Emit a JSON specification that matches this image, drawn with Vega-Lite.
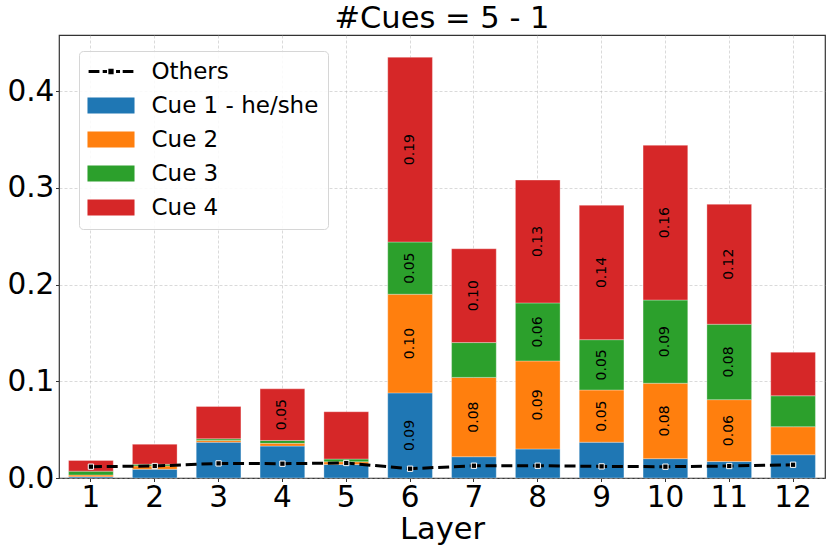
{
  "$schema": "https://vega.github.io/schema/vega-lite/v6.json",
  "width": 766,
  "height": 443,
  "autosize": {"type": "pad"},
  "padding": {"left": 6, "top": 3, "right": 6, "bottom": 0},
  "title": {"text": "#Cues = 5 - 1", "fontSize": 30.5, "fontWeight": "normal", "baseline": "bottom", "offset": 0, "dy": 29, "frame": "group", "anchor": "middle", "color": "black"},
  "config": {
    "font": "DejaVu Sans",
    "view": {"stroke": "#333", "strokeWidth": 1.2},
    "axis": {"zindex": 1}
  },
  "datasets": {
    "bars": [
      {"layer": 1, "cue": "Cue 1 - he/she", "value": 0.0013},
      {"layer": 1, "cue": "Cue 2", "value": 0.0018},
      {"layer": 1, "cue": "Cue 3", "value": 0.004},
      {"layer": 1, "cue": "Cue 4", "value": 0.011},
      {"layer": 2, "cue": "Cue 1 - he/she", "value": 0.009},
      {"layer": 2, "cue": "Cue 2", "value": 0.0035},
      {"layer": 2, "cue": "Cue 3", "value": 0.0017},
      {"layer": 2, "cue": "Cue 4", "value": 0.0207},
      {"layer": 3, "cue": "Cue 1 - he/she", "value": 0.037},
      {"layer": 3, "cue": "Cue 2", "value": 0.0018},
      {"layer": 3, "cue": "Cue 3", "value": 0.0017},
      {"layer": 3, "cue": "Cue 4", "value": 0.0334},
      {"layer": 4, "cue": "Cue 1 - he/she", "value": 0.033},
      {"layer": 4, "cue": "Cue 2", "value": 0.0028},
      {"layer": 4, "cue": "Cue 3", "value": 0.003},
      {"layer": 4, "cue": "Cue 4", "value": 0.0534},
      {"layer": 5, "cue": "Cue 1 - he/she", "value": 0.014},
      {"layer": 5, "cue": "Cue 2", "value": 0.0028},
      {"layer": 5, "cue": "Cue 3", "value": 0.0028},
      {"layer": 5, "cue": "Cue 4", "value": 0.0489},
      {"layer": 6, "cue": "Cue 1 - he/she", "value": 0.088},
      {"layer": 6, "cue": "Cue 2", "value": 0.102},
      {"layer": 6, "cue": "Cue 3", "value": 0.054},
      {"layer": 6, "cue": "Cue 4", "value": 0.191},
      {"layer": 7, "cue": "Cue 1 - he/she", "value": 0.022},
      {"layer": 7, "cue": "Cue 2", "value": 0.082},
      {"layer": 7, "cue": "Cue 3", "value": 0.036},
      {"layer": 7, "cue": "Cue 4", "value": 0.097},
      {"layer": 8, "cue": "Cue 1 - he/she", "value": 0.030},
      {"layer": 8, "cue": "Cue 2", "value": 0.091},
      {"layer": 8, "cue": "Cue 3", "value": 0.060},
      {"layer": 8, "cue": "Cue 4", "value": 0.127},
      {"layer": 9, "cue": "Cue 1 - he/she", "value": 0.037},
      {"layer": 9, "cue": "Cue 2", "value": 0.054},
      {"layer": 9, "cue": "Cue 3", "value": 0.052},
      {"layer": 9, "cue": "Cue 4", "value": 0.139},
      {"layer": 10, "cue": "Cue 1 - he/she", "value": 0.020},
      {"layer": 10, "cue": "Cue 2", "value": 0.078},
      {"layer": 10, "cue": "Cue 3", "value": 0.086},
      {"layer": 10, "cue": "Cue 4", "value": 0.160},
      {"layer": 11, "cue": "Cue 1 - he/she", "value": 0.017},
      {"layer": 11, "cue": "Cue 2", "value": 0.064},
      {"layer": 11, "cue": "Cue 3", "value": 0.078},
      {"layer": 11, "cue": "Cue 4", "value": 0.124},
      {"layer": 12, "cue": "Cue 1 - he/she", "value": 0.024},
      {"layer": 12, "cue": "Cue 2", "value": 0.029},
      {"layer": 12, "cue": "Cue 3", "value": 0.032},
      {"layer": 12, "cue": "Cue 4", "value": 0.045}
    ],
    "others": [
      {"layer": 1, "cue": "Others", "value": 0.0117},
      {"layer": 2, "cue": "Others", "value": 0.0124},
      {"layer": 3, "cue": "Others", "value": 0.0151},
      {"layer": 4, "cue": "Others", "value": 0.0148},
      {"layer": 5, "cue": "Others", "value": 0.0155},
      {"layer": 6, "cue": "Others", "value": 0.0096},
      {"layer": 7, "cue": "Others", "value": 0.0127},
      {"layer": 8, "cue": "Others", "value": 0.0127},
      {"layer": 9, "cue": "Others", "value": 0.012},
      {"layer": 10, "cue": "Others", "value": 0.0117},
      {"layer": 11, "cue": "Others", "value": 0.0124},
      {"layer": 12, "cue": "Others", "value": 0.0137}
    ]
  },
  "layer": [
    {
      "data": {"name": "bars"},
      "transform": [
        {"stack": "value", "groupby": ["layer"], "sort": [{"field": "cue", "order": "ascending"}], "as": ["y0", "y1"]}
      ],
      "mark": {"type": "bar", "stroke": "white", "strokeOpacity": 0.3, "strokeWidth": 1},
      "encoding": {
        "x": {
          "field": "layer", "type": "ordinal",
          "scale": {"domain": [1,2,3,4,5,6,7,8,9,10,11,12], "paddingInner": 0.3, "paddingOuter": 0.15},
          "axis": {
            "title": "Layer", "titleFontSize": 30.5, "titleFontWeight": "normal", "titleColor": "black", "titlePadding": 2,
            "labelAngle": 0, "labelFontSize": 29.5, "labelColor": "black", "labelPadding": 2,
            "tickSize": 3.5, "tickColor": "#333", "domain": false, "bandPosition": 0.5,
            "grid": true, "gridColor": "#b0b0b0", "gridOpacity": 0.6, "gridDash": [3, 2], "gridWidth": 0.8
          }
        },
        "y": {
          "field": "y1", "type": "quantitative",
          "scale": {"domain": [0, 0.458], "nice": false, "zero": true},
          "axis": {
            "title": null, "values": [0, 0.1, 0.2, 0.3, 0.4], "format": ".1f",
            "labelFontSize": 29.5, "labelColor": "black", "labelPadding": 1.6,
            "tickSize": 3.5, "tickColor": "#333", "domain": false,
            "grid": true, "gridColor": "#b0b0b0", "gridOpacity": 0.6, "gridDash": [3, 2], "gridWidth": 0.8
          }
        },
        "y2": {"field": "y0"},
        "color": {
          "field": "cue", "type": "nominal",
          "scale": {
            "domain": ["Others", "Cue 1 - he/she", "Cue 2", "Cue 3", "Cue 4"],
            "range": ["black", "#1f77b4", "#ff7f0e", "#2ca02c", "#d62728"]
          },
          "legend": {
            "title": null, "orient": "none", "legendX": 20, "legendY": 16,
            "padding": 9, "rowPadding": 10, "labelFontSize": 23, "labelColor": "black", "labelLimit": 0,
            "symbolSize": 256, "symbolStrokeWidth": 0, "symbolOffset": 11.5, "labelOffset": 29,
            "symbolType": {"expr": "datum.value === 'Others' ? 'M-2.8,-0.19H-1.45V0.19H-2.8ZM-1.04,-0.19H-0.5V0.19H-1.04ZM-0.33,-0.33H0.33V0.33H-0.33ZM0.63,-0.19H1.13V0.19H0.63ZM1.46,-0.19H2.8V0.19H1.46Z' : 'M-2.94,-1H2.94V1H-2.94Z'"},
            "fillColor": "rgba(255,255,255,0.85)", "strokeColor": "#d6d6d6", "cornerRadius": 4,
            "encode": {
              "symbols": {
                "fill": {"value": {"expr": "scale('color', datum.value)"}},
                "fillOpacity": {"value": 1},
                "opacity": {"value": 1},
                "stroke": {"value": "transparent"},
                "strokeWidth": {"value": 0}
              }
            }
          }
        }
      }
    },
    {
      "data": {"name": "bars"},
      "transform": [
        {"stack": "value", "groupby": ["layer"], "sort": [{"field": "cue", "order": "ascending"}], "as": ["y0", "y1"]},
        {"filter": "datum.value >= 0.05"},
        {"calculate": "(datum.y0 + datum.y1) / 2", "as": "mid"}
      ],
      "mark": {"type": "text", "angle": 270, "fontSize": 14, "color": "black", "align": "center", "baseline": "middle"},
      "encoding": {
        "x": {"field": "layer", "type": "ordinal"},
        "y": {"field": "mid", "type": "quantitative"},
        "text": {"field": "value", "type": "quantitative", "format": ".2f"}
      }
    },
    {
      "data": {"name": "others"},
      "mark": {"type": "line", "strokeWidth": 3, "strokeDash": [11, 4.8]},
      "encoding": {
        "x": {"field": "layer", "type": "ordinal"},
        "y": {"field": "value", "type": "quantitative"},
        "color": {"field": "cue", "type": "nominal"}
      }
    },
    {
      "data": {"name": "others"},
      "mark": {"type": "point", "shape": "square", "filled": true, "fill": "black", "stroke": "white", "strokeWidth": 1, "size": 28, "opacity": 1},
      "encoding": {
        "x": {"field": "layer", "type": "ordinal"},
        "y": {"field": "value", "type": "quantitative"}
      }
    }
  ]
}
